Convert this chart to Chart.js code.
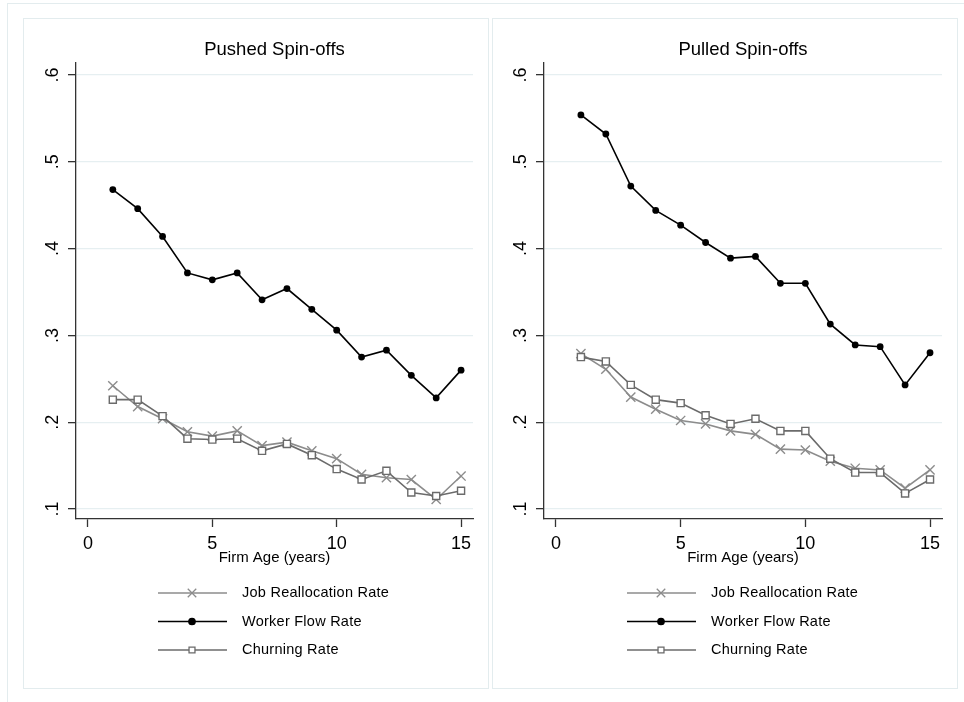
<!DOCTYPE html>
<html>
<head>
<meta charset="utf-8">
<script src="https://cdn.jsdelivr.net/npm/chart.js@4.4.1/dist/chart.umd.min.js"></script>
<style>
body { margin: 0; background: #fff; width: 964px; height: 702px; overflow: hidden; position: relative; }
.box { position: absolute; border: 1px solid #e3ecee; box-sizing: border-box; }
canvas { position: absolute; }
</style>
</head>
<body>
<div class="box" style="left:7px;top:3px;width:980px;height:720px;"></div>
<div class="box" style="left:23px;top:18px;width:466px;height:671px;"></div>
<div class="box" style="left:492px;top:18px;width:466px;height:671px;"></div>
<canvas id="pushed" style="left:23px;top:18px;"></canvas>
<canvas id="pulled" style="left:492px;top:18px;"></canvas>
<script>
// firm age (years)
var ages = [1, 2, 3, 4, 5, 6, 7, 8, 9, 10, 11, 12, 13, 14, 15];
var xTicks = [0, 5, 10, 15];
var yTicks = [0.1, 0.2, 0.3, 0.4, 0.5, 0.6];

var seriesNames = ['Job Reallocation Rate', 'Worker Flow Rate', 'Churning Rate'];

// Pushed spin-offs
var pushedJob = [0.242, 0.218, 0.204, 0.189, 0.184, 0.190, 0.173, 0.177, 0.167, 0.158, 0.140, 0.136, 0.134, 0.111, 0.138];
var pushedWorker = [0.468, 0.446, 0.414, 0.372, 0.364, 0.372, 0.341, 0.354, 0.330, 0.306, 0.275, 0.283, 0.254, 0.228, 0.260];
var pushedChurn = [0.226, 0.226, 0.207, 0.181, 0.180, 0.181, 0.167, 0.175, 0.162, 0.146, 0.134, 0.144, 0.119, 0.115, 0.121];

// Pulled spin-offs
var pulledJob = [0.279, 0.261, 0.229, 0.215, 0.202, 0.198, 0.190, 0.186, 0.169, 0.168, 0.155, 0.147, 0.145, 0.124, 0.145];
var pulledWorker = [0.554, 0.532, 0.472, 0.444, 0.427, 0.407, 0.389, 0.391, 0.360, 0.360, 0.313, 0.289, 0.287, 0.243, 0.280];
var pulledChurn = [0.275, 0.270, 0.243, 0.226, 0.222, 0.208, 0.198, 0.204, 0.190, 0.190, 0.158, 0.142, 0.142, 0.118, 0.134];

var FONT = '"Liberation Sans", Arial, sans-serif';

function toXY(vals) {
    return vals.map(function (v, i) { return { x: ages[i], y: v }; });
}

// legend drawn Stata-style: line with marker, then label
var stataLegend = {
    id: 'stataLegend',
    afterDraw: function (chart) {
        var ctx = chart.ctx;
        var legRadius = [6, 3.2, 4.2];
        chart.data.datasets.forEach(function (ds, i) {
            var y = 575 + i * 28.5;
            ctx.save();
            ctx.strokeStyle = ds.borderColor;
            ctx.lineWidth = ds.borderWidth;
            ctx.beginPath();
            ctx.moveTo(135, y);
            ctx.lineTo(204, y);
            ctx.stroke();
            ctx.fillStyle = ds.pointBackgroundColor;
            ctx.strokeStyle = ds.pointBorderColor;
            ctx.lineWidth = 1.3;
            Chart.helpers.drawPoint(ctx, { pointStyle: ds.pointStyle, radius: legRadius[i], borderWidth: 1.3, rotation: 0 }, 169, y);
            ctx.fillStyle = '#000';
            ctx.font = '14.5px ' + FONT;
            ctx.letterSpacing = '0.25px';
            ctx.textBaseline = 'middle';
            ctx.textAlign = 'left';
            ctx.fillText(ds.label, 219, y);
            ctx.restore();
        });
        // panel title
        var ca = chart.chartArea;
        ctx.save();
        ctx.fillStyle = '#000';
        ctx.font = '18.5px ' + FONT;
        ctx.textAlign = 'center';
        ctx.textBaseline = 'middle';
        ctx.fillText(chart.options.panelTitle, (ca.left + ca.right) / 2, 32);
        ctx.restore();
    }
};

function makePanel(id, title, job, worker, churn, axisW) {
    var cv = document.getElementById(id);
    cv.width = 465;
    cv.height = 670;
    cv.style.width = '465px';
    cv.style.height = '670px';

    return new Chart(cv, {
        type: 'line',
        data: {
            datasets: [{
                label: seriesNames[0],
                data: toXY(job),
                borderColor: '#8c8c8c',
                borderWidth: 1.6,
                pointStyle: 'crossRot',
                pointRadius: 6.5,
                pointBorderWidth: 1.4,
                pointBorderColor: '#8c8c8c',
                pointBackgroundColor: '#8c8c8c',
                order: 2
            }, {
                label: seriesNames[1],
                data: toXY(worker),
                borderColor: '#000000',
                borderWidth: 1.6,
                pointStyle: 'circle',
                pointRadius: 3.4,
                pointBorderWidth: 0,
                pointBorderColor: '#000000',
                pointBackgroundColor: '#000000',
                order: 0
            }, {
                label: seriesNames[2],
                data: toXY(churn),
                borderColor: '#6b6b6b',
                borderWidth: 1.6,
                pointStyle: 'rect',
                pointRadius: 5,
                pointBorderWidth: 1.4,
                pointBorderColor: '#6b6b6b',
                pointBackgroundColor: '#ffffff',
                order: 1
            }]
        },
        options: {
            panelTitle: title,
            responsive: false,
            animation: false,
            events: [],
            layout: { padding: { top: 45, right: 15, bottom: 121, left: 0 } },
            plugins: {
                legend: { display: false },
                tooltip: { enabled: false },
                title: { display: false }
            },
            scales: {
                x: {
                    type: 'linear',
                    min: -0.48,
                    max: 15.48,
                    afterBuildTicks: function (s) { s.ticks = xTicks.map(function (v) { return { value: v }; }); },
                    afterFit: function (s) { s.height = 48; },
                    grid: { drawOnChartArea: false, drawTicks: true, tickLength: 8, tickColor: '#333', tickWidth: 1.3 },
                    border: { color: '#333', width: 1.3 },
                    ticks: { color: '#000', font: { family: FONT, size: 18 }, padding: 6, maxRotation: 0 },
                    title: { display: true, text: 'Firm Age (years)', color: '#000', font: { family: FONT, size: 15 }, padding: 0 }
                },
                y: {
                    min: 0.0885,
                    max: 0.6138,
                    afterBuildTicks: function (s) { s.ticks = yTicks.map(function (v) { return { value: v }; }); },
                    afterFit: function (s) { s.width = axisW; },
                    grid: { color: '#e6eff1', lineWidth: 1.3, drawTicks: true, tickLength: 8, tickColor: '#333', tickWidth: 1.3 },
                    border: { color: '#333', width: 1.3 },
                    ticks: {
                        color: '#000',
                        font: { family: FONT, size: 18 },
                        padding: 7,
                        minRotation: 90,
                        maxRotation: 90,
                        crossAlign: 'center',
                        callback: function (v) { return v.toFixed(1).replace(/^0/, ''); }
                    }
                }
            }
        },
        plugins: [stataLegend]
    });
}

makePanel('pushed', 'Pushed Spin-offs', pushedJob, pushedWorker, pushedChurn, 53);
makePanel('pulled', 'Pulled Spin-offs', pulledJob, pulledWorker, pulledChurn, 52);
</script>
</body>
</html>
